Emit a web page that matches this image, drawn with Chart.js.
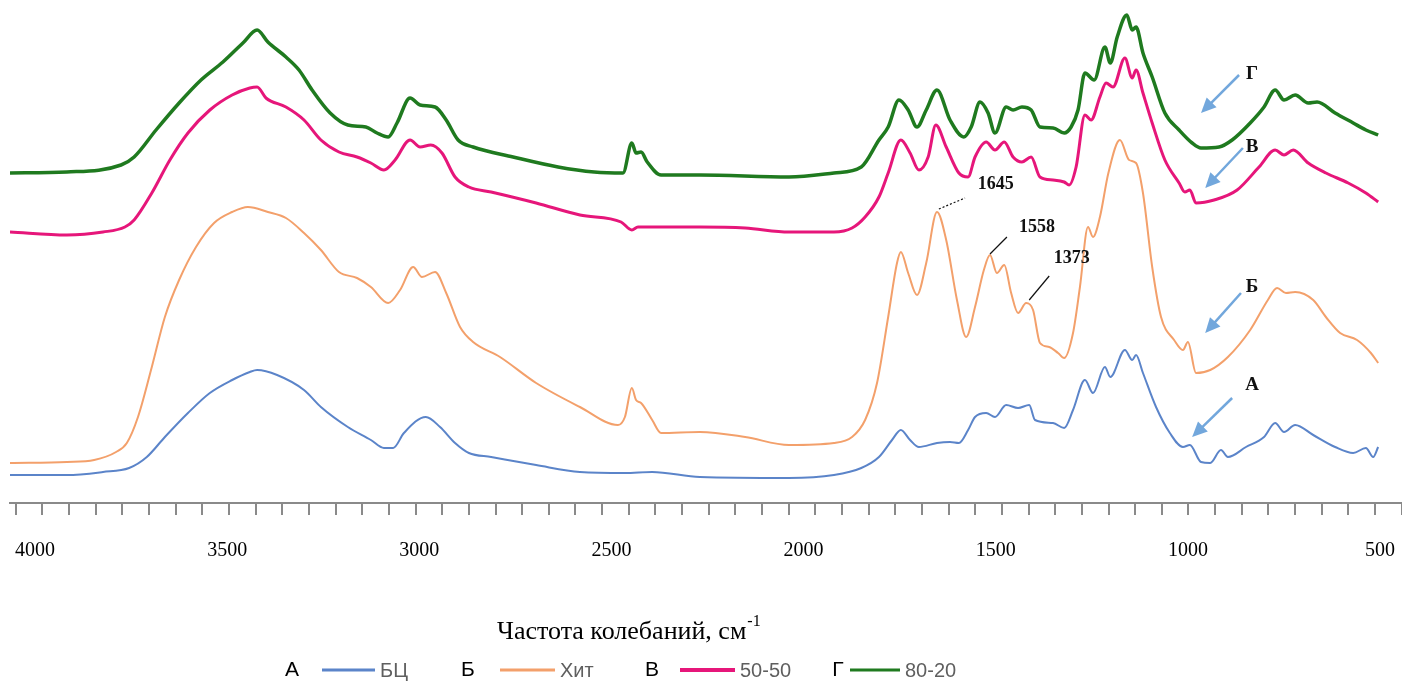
<!DOCTYPE html>
<html>
<head>
<meta charset="utf-8">
<script src="https://cdn.jsdelivr.net/npm/chart.js@4.4.1/dist/chart.umd.min.js"></script>
<style>
  html, body { margin: 0; padding: 0; background: #fff; }
  canvas { display: block; }
</style>
</head>
<body>
<canvas id="ftir" width="1402" height="688"></canvas>
<script>
// ИК-спектры: волновое число (см-1) и интенсивность (усл. ед.)
const wnA = [4065, 3917, 3823, 3755, 3709, 3662, 3602, 3545, 3487, 3441, 3422, 3370, 3300, 3256, 3186, 3126, 3092, 3068, 3040, 2983,
  2946, 2907, 2871, 2813, 2696, 2582, 2465, 2394, 2270, 2038, 1921, 1850, 1804, 1770, 1747, 1723, 1700, 1653, 1619, 1596,
  1572, 1554, 1525, 1502, 1473, 1442, 1413, 1398, 1351, 1322, 1299, 1268, 1247, 1216, 1202, 1164, 1145, 1135, 1117, 1083,
  1047, 1013, 995, 966, 942, 914, 896, 849, 802, 773, 750, 721, 674, 617, 570, 537, 518, 505];
const absA = [28, 28, 31, 35, 46, 66, 90, 110, 123, 131, 133, 128, 113, 96, 76, 63, 55, 55, 70, 86,
  76, 60, 50, 46, 38, 31, 30, 31, 26, 25, 28, 35, 46, 63, 73, 63, 56, 60, 61, 60,
  73, 86, 90, 86, 98, 95, 98, 83, 80, 75, 93, 123, 110, 136, 126, 153, 143, 148, 130, 96,
  70, 56, 58, 41, 40, 53, 46, 56, 66, 80, 71, 78, 68, 56, 50, 55, 46, 56];

const wnB = [4065, 3917, 3846, 3789, 3761, 3732, 3696, 3662, 3625, 3581, 3534, 3487, 3446, 3394, 3347, 3300, 3256, 3209, 3162, 3126,
  3081, 3050, 3016, 2993, 2959, 2930, 2894, 2860, 2790, 2696, 2582, 2483, 2465, 2447, 2436, 2423, 2394, 2371, 2270, 2152,
  2038, 1921, 1874, 1840, 1809, 1780, 1757, 1747, 1728, 1705, 1681, 1653, 1629, 1601, 1577, 1554, 1531, 1515, 1497, 1478,
  1460, 1442, 1421, 1403, 1385, 1361, 1338, 1322, 1299, 1281, 1260, 1247, 1229, 1207, 1177, 1153, 1135, 1117, 1093, 1070,
  1036, 1013, 1000, 979, 942, 896, 838, 792, 768, 745, 721, 674, 641, 604, 560, 524, 505];
const absB = [40, 41, 43, 51, 60, 86, 136, 186, 223, 256, 280, 291, 296, 291, 285, 270, 253, 231, 225, 216,
  200, 213, 236, 226, 231, 210, 176, 161, 146, 120, 96, 78, 86, 115, 103, 100, 83, 70, 71, 66,
  58, 60, 66, 83, 120, 186, 240, 251, 230, 208, 240, 291, 263, 203, 166, 196, 233, 248, 230, 238,
  210, 190, 200, 193, 160, 156, 150, 145, 170, 216, 276, 266, 286, 330, 363, 343, 340, 310, 236, 186,
  163, 153, 161, 130, 133, 146, 173, 203, 215, 210, 211, 203, 186, 170, 163, 150, 140];

const wnC = [4065, 3917, 3823, 3766, 3742, 3696, 3649, 3602, 3545, 3487, 3441, 3422, 3399, 3347, 3300, 3256, 3209, 3162, 3126, 3092,
  3063, 3024, 2998, 2970, 2941, 2907, 2871, 2813, 2696, 2582, 2475, 2447, 2431, 2270, 2152, 2038, 1921, 1874, 1840, 1804,
  1780, 1747, 1723, 1700, 1676, 1656, 1629, 1596, 1572, 1554, 1525, 1502, 1478, 1455, 1432, 1408, 1385, 1351, 1322, 1309,
  1291, 1268, 1252, 1229, 1213, 1195, 1164, 1145, 1135, 1117, 1093, 1060, 1023, 1008, 995, 979, 932, 872, 815, 773,
  750, 726, 687, 641, 583, 537, 505];
const absC = [271, 268, 271, 276, 283, 310, 343, 370, 393, 408, 415, 416, 405, 396, 383, 363, 351, 346, 340, 333,
  343, 363, 356, 358, 350, 326, 316, 311, 300, 288, 281, 273, 276, 276, 275, 271, 271, 275, 286, 306,
  330, 363, 350, 333, 346, 378, 356, 330, 326, 346, 361, 353, 361, 346, 341, 346, 326, 323, 321, 318,
  336, 388, 383, 406, 420, 416, 445, 425, 433, 410, 380, 343, 320, 311, 313, 300, 303, 313, 336, 353,
  348, 353, 340, 330, 320, 310, 301];

const wnD = [4065, 3917, 3776, 3742, 3685, 3625, 3568, 3511, 3459, 3422, 3394, 3347, 3313, 3279, 3232, 3186, 3139, 3110, 3081, 3058,
  3024, 2998, 2959, 2930, 2899, 2860, 2756, 2639, 2545, 2470, 2447, 2436, 2423, 2407, 2371, 2270, 2038, 1921, 1850, 1804,
  1780, 1752, 1728, 1705, 1681, 1653, 1619, 1583, 1564, 1541, 1520, 1502, 1473, 1455, 1432, 1408, 1385, 1351, 1322, 1304,
  1286, 1268, 1244, 1216, 1202, 1184, 1159, 1145, 1135, 1117, 1093, 1060, 1023, 989, 966, 919, 885, 838, 802, 773,
  750, 721, 687, 664, 617, 570, 537, 505];
const absD = [330, 331, 338, 346, 373, 400, 423, 441, 460, 473, 461, 446, 433, 413, 390, 378, 376, 370, 366, 380,
  405, 398, 396, 383, 363, 356, 346, 336, 331, 330, 360, 350, 351, 341, 328, 328, 326, 330, 336, 363,
  376, 403, 393, 376, 393, 413, 383, 366, 376, 401, 390, 370, 396, 393, 396, 393, 376, 375, 370, 376,
  393, 430, 423, 456, 440, 466, 488, 473, 476, 450, 426, 390, 373, 360, 355, 356, 363, 380, 396, 413,
  403, 408, 400, 401, 390, 380, 373, 368];

const tickLabels = [4000, 3500, 3000, 2500, 2000, 1500, 1000, 500];
const seriesLetters = ['А', 'Б', 'В', 'Г'];
const seriesNames = ['БЦ', 'Хит', '50-50', '80-20'];
const peakLabels = ['1645', '1558', '1373'];
const axisTitle = 'Частота колебаний, см';

const colors = ['#5b84c9', '#f3a06b', '#e6167a', '#1f7a1f'];
const widths = [2, 2, 3, 3.5];

const pts = (xs, ys) => xs.map((x, i) => ({ x: x, y: ys[i] }));
const seriesData = [pts(wnA, absA), pts(wnB, absB), pts(wnC, absC), pts(wnD, absD)];

// подписи и стрелки (в координатах графика)
const arrowMarks = [
  { from: [885, 105], to: [989, 66], label: [833, 118] },
  { from: [862, 210], to: [955, 170], label: [833, 216] },
  { from: [857, 355], to: [955, 315], label: [833, 356] },
  { from: [867, 428], to: [966, 390], label: [833, 429] }
];
const peakMarks = [
  { text: [1500, 319], from: [1648, 294], to: [1580, 305], dash: [2, 2] },
  { text: [1393, 276], from: [1515, 249], to: [1471, 266], dash: [] },
  { text: [1302, 245], from: [1413, 203], to: [1361, 227], dash: [] }
];
const legendItems = [
  { letterX: 292, lineX0: 322, lineX1: 375, textX: 380 },
  { letterX: 468, lineX0: 500, lineX1: 555, textX: 560 },
  { letterX: 652, lineX0: 680, lineX1: 735, textX: 740 },
  { letterX: 838, lineX0: 850, lineX1: 900, textX: 905 }
];

const serif = '"Liberation Serif", "Times New Roman", serif';
const sans = '"Liberation Sans", Arial, sans-serif';

const notes = {
  id: 'notes',
  afterDatasetsDraw(chart) {
    const { ctx, scales: { x, y } } = chart;
    const px = p => [x.getPixelForValue(p[0]), y.getPixelForValue(p[1])];
    ctx.save();
    arrowMarks.forEach((a, i) => {
      const [x0, y0] = px(a.from);
      const [x1, y1] = px(a.to);
      const ang = Math.atan2(y1 - y0, x1 - x0);
      const c = Math.cos(ang), s = Math.sin(ang);
      const head = 15, half = 7;
      ctx.strokeStyle = '#72a7dc';
      ctx.fillStyle = '#72a7dc';
      ctx.lineWidth = 2.5;
      ctx.beginPath();
      ctx.moveTo(x0, y0);
      ctx.lineTo(x1 - head * c * 0.8, y1 - head * s * 0.8);
      ctx.stroke();
      ctx.beginPath();
      ctx.moveTo(x1, y1);
      ctx.lineTo(x1 - head * c + half * s, y1 - head * s - half * c);
      ctx.lineTo(x1 - head * c - half * s, y1 - head * s + half * c);
      ctx.closePath();
      ctx.fill();
      const [tx, ty] = px(a.label);
      ctx.fillStyle = '#111';
      ctx.font = 'bold 19px ' + serif;
      ctx.textAlign = 'center';
      ctx.textBaseline = 'middle';
      ctx.fillText(seriesLetters[i], tx, ty);
    });
    peakMarks.forEach((m, i) => {
      const [x0, y0] = px(m.from);
      const [x1, y1] = px(m.to);
      ctx.strokeStyle = '#111';
      ctx.lineWidth = 1.2;
      ctx.setLineDash(m.dash);
      ctx.beginPath();
      ctx.moveTo(x0, y0);
      ctx.lineTo(x1, y1);
      ctx.stroke();
      ctx.setLineDash([]);
      const [tx, ty] = px(m.text);
      ctx.fillStyle = '#111';
      ctx.font = 'bold 18px ' + serif;
      ctx.textAlign = 'center';
      ctx.textBaseline = 'middle';
      ctx.fillText(peakLabels[i], tx, ty);
    });
    ctx.restore();
  },
  afterDraw(chart) {
    const ctx = chart.ctx;
    ctx.save();
    // подпись оси
    ctx.fillStyle = '#000';
    ctx.textBaseline = 'middle';
    ctx.textAlign = 'left';
    ctx.font = '26px ' + serif;
    const tx = 497, ty = 632;
    ctx.fillText(axisTitle, tx, ty);
    const w = ctx.measureText(axisTitle).width;
    ctx.font = '16px ' + serif;
    ctx.fillText('-1', tx + w + 1, ty - 10);
    // легенда
    const ly = 670;
    legendItems.forEach((it, i) => {
      ctx.font = '21px ' + sans;
      ctx.fillStyle = '#000';
      ctx.textAlign = 'center';
      ctx.fillText(seriesLetters[i], it.letterX, ly);
      ctx.strokeStyle = colors[i];
      ctx.lineWidth = i === 2 ? 4 : 3;
      ctx.beginPath();
      ctx.moveTo(it.lineX0, ly);
      ctx.lineTo(it.lineX1, ly);
      ctx.stroke();
      ctx.font = '20px ' + sans;
      ctx.fillStyle = '#5f5f5f';
      ctx.textAlign = 'left';
      ctx.fillText(seriesNames[i], it.textX, ly + 1);
    });
    ctx.restore();
  }
};

new Chart(document.getElementById('ftir'), {
  type: 'line',
  data: {
    datasets: seriesData.map((d, i) => ({
      label: seriesNames[i],
      data: d,
      borderColor: colors[i],
      borderWidth: widths[i],
      pointRadius: 0,
      fill: false,
      cubicInterpolationMode: 'monotone'
    }))
  },
  options: {
    responsive: false,
    animation: false,
    layout: { padding: { left: 10, right: 0, top: 0, bottom: 125 } },
    plugins: {
      legend: { display: false },
      tooltip: { enabled: false },
      title: { display: false }
    },
    scales: {
      xm: {
        type: 'linear',
        position: 'bottom',
        reverse: true,
        min: 443,
        max: 4065,
        weight: 0,
        grid: { drawOnChartArea: false, drawTicks: true, tickLength: 12, color: '#8a8a8a', lineWidth: 2 },
        border: { display: true, color: '#8a8a8a', width: 2 },
        ticks: { display: false },
        afterBuildTicks: axis => {
          const t = [];
          for (let v = 4050; v >= 443; v -= 69.35) t.push({ value: v });
          axis.ticks = t;
        }
      },
      x: {
        type: 'linear',
        position: 'bottom',
        reverse: true,
        min: 443,
        max: 4065,
        weight: 1,
        grid: { display: false, drawTicks: true, tickLength: 24 },
        border: { display: false },
        ticks: {
          padding: 0,
          color: '#000',
          maxRotation: 0,
          autoSkip: false,
          font: { family: serif, size: 20 },
          callback: v => String(v)
        },
        afterBuildTicks: axis => {
          axis.ticks = tickLabels.map(v => ({ value: v }));
        }
      },
      y: { display: false, min: 0, max: 503 }
    }
  },
  plugins: [notes]
});
</script>
</body>
</html>
